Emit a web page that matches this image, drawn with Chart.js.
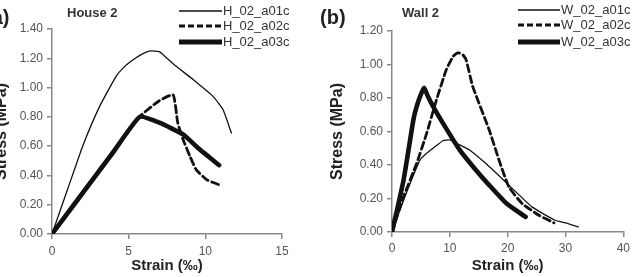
<!DOCTYPE html>
<html>
<head>
<meta charset="utf-8">
<script src="https://cdn.jsdelivr.net/npm/chart.js@4/dist/chart.umd.min.js"></script>
<style>
  body { margin: 0; width: 634px; height: 277px; background: #fff; position: relative; overflow: hidden;
         font-family: "Liberation Sans", Arial, sans-serif; }
  .box { position: absolute; top: 0; }
  .lbl { position: absolute; color: #222; white-space: nowrap; line-height: 1; }
  .panel { font-weight: bold; font-size: 20px; }
  .ttl { font-weight: bold; font-size: 13px; color: #333; }
  .leg { font-size: 13px; color: #333; }
  svg.legline { position: absolute; overflow: visible; }
</style>
</head>
<body>
<div class="box" style="left:-10px;width:310px;height:277px"><canvas id="house" width="310" height="277"></canvas></div>
<div class="box" style="left:314px;width:320px;height:277px"><canvas id="wall" width="320" height="277"></canvas></div>

<div class="lbl panel" style="left:-15px;top:7px">(a)</div>
<div class="lbl panel" style="left:320px;top:7px">(b)</div>
<div class="lbl ttl" style="left:67px;top:6px">House 2</div>
<div class="lbl ttl" style="left:402px;top:6px">Wall 2</div>
<div id="legends"></div>

<script>
// House 2 : strain (‰) / stress (MPa)
const houseA01Strain = [0, 1, 2, 3.1, 4.2, 4.8, 5.3, 5.9, 6.4, 7.0, 7.5, 8.1, 9.2, 10.5, 11.15, 11.7];
const houseA01Stress = [0, 0.3, 0.6, 0.87, 1.08, 1.15, 1.19, 1.23, 1.25, 1.245, 1.2, 1.145, 1.055, 0.94, 0.85, 0.69];
const houseA02Strain = [0, 2, 4, 5.7, 7.0, 7.9, 8.2, 8.55, 9.0, 9.4, 10.1, 11.05];
const houseA02Stress = [0, 0.28, 0.56, 0.8, 0.91, 0.95, 0.76, 0.645, 0.53, 0.44, 0.37, 0.33];
const houseA03Strain = [0, 2, 4, 5.72, 7.0, 8.55, 9.6, 10.9];
const houseA03Stress = [0, 0.28, 0.56, 0.8, 0.76, 0.68, 0.58, 0.47];

// Wall 2
const wallA01Strain = [0, 2, 4.84, 6.0, 7.1, 8.8, 10.0, 11.7, 13.4, 16.2, 19.9, 24.2, 28.2, 30.0, 32.2];
const wallA01Stress = [0, 0.19, 0.43, 0.47, 0.5, 0.545, 0.55, 0.52, 0.49, 0.41, 0.29, 0.15, 0.07, 0.055, 0.03];
const wallA02Strain = [0, 2, 4.27, 6.0, 7.7, 9.4, 10.6, 11.4, 12.2, 12.8, 13.95, 16.8, 18.5, 20.2, 22.5, 25.4, 28.0];
const wallA02Stress = [0, 0.21, 0.41, 0.59, 0.79, 0.97, 1.05, 1.07, 1.06, 1.03, 0.87, 0.61, 0.43, 0.27, 0.17, 0.1, 0.055];
const wallA03Strain = [0, 2, 3.7, 4.27, 5.1, 5.58, 6.2, 7.1, 8.8, 11.7, 14.5, 16.8, 19.8, 23.1];
const wallA03Stress = [0, 0.31, 0.67, 0.75, 0.83, 0.86, 0.81, 0.75, 0.65, 0.49, 0.37, 0.28, 0.17, 0.09];

const houseLabels = ["H_02_a01c", "H_02_a02c", "H_02_a03c"];
const wallLabels = ["W_02_a01c", "W_02_a02c", "W_02_a03c"];
const houseXTicks = [0, 5, 10, 15];
const wallXTicks = [0, 10, 20, 30, 40];
const houseYMax = 1.4;
const wallYMax = 1.2;

const FONT = "'Liberation Sans', Arial, sans-serif";
const STYLES = [
  { borderWidth: 1.3, borderDash: [] },
  { borderWidth: 2.8, borderDash: [7, 4] },
  { borderWidth: 4.6, borderDash: [] }
];

function toPoints(xs, ys) {
  return xs.map((x, i) => ({ x: x, y: ys[i] }));
}

function makeChart(id, series, labels, xTicks, yMax, opt) {
  const datasets = series.map((s, i) => ({
    label: labels[i],
    data: toPoints(s[0], s[1]),
    showLine: true,
    pointRadius: 0,
    borderColor: "#111",
    borderWidth: STYLES[i].borderWidth,
    borderDash: STYLES[i].borderDash,
    borderJoinStyle: "round",
    borderCapStyle: "round",
    tension: 0.15,
    fill: false
  }));
  return new Chart(document.getElementById(id), {
    type: "scatter",
    data: { datasets: datasets },
    options: {
      responsive: false,
      animation: false,
      devicePixelRatio: 1,
      layout: { padding: { top: opt.top, right: opt.right, left: 0, bottom: 0 } },
      plugins: { legend: { display: false }, tooltip: { enabled: false } },
      scales: {
        x: {
          type: "linear",
          min: xTicks[0],
          max: xTicks[xTicks.length - 1],
          afterBuildTicks: sc => { sc.ticks = xTicks.map(v => ({ value: v })); },
          afterFit: sc => { sc.height = opt.xHeight; },
          ticks: { color: "#555", font: { family: FONT, size: 12 }, padding: opt.xPad, maxRotation: 0 },
          grid: { drawOnChartArea: false, tickLength: 5, color: "#888", lineWidth: 1.5 },
          border: { color: "#888", width: 1.5 },
          title: { display: true, text: "Strain (‰)", color: "#222",
                   font: { family: FONT, size: 15, weight: "bold" }, padding: { top: 0, bottom: 2 } }
        },
        y: {
          min: 0,
          max: yMax,
          ticks: { stepSize: 0.2, color: "#555", font: { family: FONT, size: 12 }, padding: 4,
                   callback: v => v.toFixed(2) },
          afterFit: sc => { sc.width = opt.yWidth; },
          grid: { drawOnChartArea: false, tickLength: 5, color: "#888", lineWidth: 1.5 },
          border: { color: "#888", width: 1.5 },
          title: { display: true, text: "Stress (MPa)", color: "#222",
                   font: { family: FONT, size: 16, weight: "bold" }, padding: { top: opt.yTitlePad, bottom: 0 } }
        }
      }
    }
  });
}

makeChart("house",
  [[houseA01Strain, houseA01Stress], [houseA02Strain, houseA02Stress], [houseA03Strain, houseA03Stress]],
  houseLabels, houseXTicks, houseYMax,
  { top: 29, right: 18, xHeight: 43, yWidth: 62, xPad: 5, yTitlePad: 2 });

makeChart("wall",
  [[wallA01Strain, wallA01Stress], [wallA02Strain, wallA02Stress], [wallA03Strain, wallA03Stress]],
  wallLabels, wallXTicks, wallYMax,
  { top: 31, right: 8, xHeight: 45, yWidth: 78, xPad: 4, yTitlePad: 14 });

// légendes (lignes + texte)
function drawLegend(labels, lineLeft, textLeft, rows) {
  const host = document.getElementById("legends");
  labels.forEach((txt, i) => {
    const st = STYLES[i];
    const svg = document.createElementNS("http://www.w3.org/2000/svg", "svg");
    svg.setAttribute("class", "legline");
    svg.setAttribute("width", textLeft - lineLeft);
    svg.setAttribute("height", 8);
    svg.style.left = lineLeft + "px";
    svg.style.top = (rows[i] - 4) + "px";
    const ln = document.createElementNS("http://www.w3.org/2000/svg", "line");
    ln.setAttribute("x1", 0); ln.setAttribute("y1", 4);
    ln.setAttribute("x2", textLeft - lineLeft - 1); ln.setAttribute("y2", 4);
    ln.setAttribute("stroke", "#111");
    ln.setAttribute("stroke-width", st.borderWidth + 0.4);
    if (st.borderDash.length) ln.setAttribute("stroke-dasharray", "6 3");
    svg.appendChild(ln);
    host.appendChild(svg);
    const d = document.createElement("div");
    d.className = "lbl leg";
    d.textContent = txt;
    d.style.left = textLeft + "px";
    d.style.top = (rows[i] - 7) + "px";
    host.appendChild(d);
  });
}
drawLegend(houseLabels, 179, 223, [11, 25.5, 42]);
drawLegend(wallLabels, 518, 561, [9.5, 24.5, 41.7]);
</script>
</body>
</html>
